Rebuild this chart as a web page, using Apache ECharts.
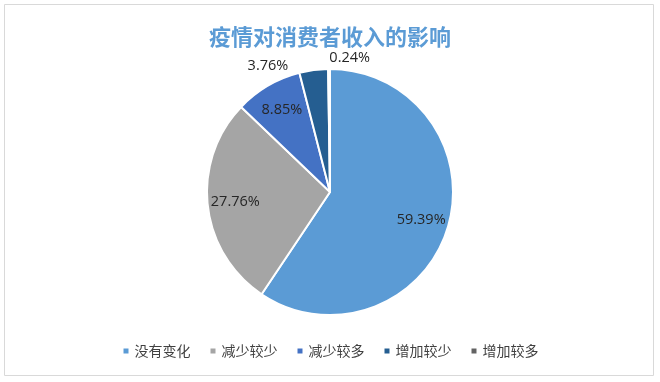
<!DOCTYPE html>
<html><head><meta charset="utf-8">
<script src="https://cdn.jsdelivr.net/npm/echarts@6/dist/echarts.min.js"></script>
<style>html,body{margin:0;padding:0;background:#fff}#c{width:660px;height:382px}</style>
</head><body><div id="c"></div>
<script>
const titleText = '疫情对消费者收入的影响';
const categories = ['没有变化', '减少较少', '减少较多', '增加较少', '增加较多'];
const values = [59.39, 27.76, 8.85, 3.76, 0.24];
const colors = ['#5B9BD5', '#A5A5A5', '#4472C4', '#255E91', '#636363'];
const insideLabel = [true, true, true, false, false];
const outsideShift = [null, null, null, [31, -12], [54, -3]];

const chart = echarts.init(document.getElementById('c'), null, {renderer: 'canvas'});
const fontCJK = '"Noto Sans CJK SC", "Noto Sans", sans-serif';
const fontNum = '"Open Sans", "Noto Sans", sans-serif';
const R = 123;
const data = categories.map((n, i) => ({name: n, value: values[i]}));

chart.setOption({
  animation: false,
  color: colors,
  title: {
    text: titleText, left: 'center', top: 21,
    textStyle: {color: '#5B9BD5', fontSize: 22, fontWeight: 'bold', fontFamily: fontCJK}
  },
  legend: {
    bottom: 19, left: 'center', itemWidth: 7, itemHeight: 7, itemGap: 18,
    icon: 'rect',
    textStyle: {color: '#404040', fontSize: 14, fontFamily: fontCJK},
    data: categories
  },
  graphic: [{
    type: 'rect', shape: {x: 4.5, y: 4.5, width: 649, height: 371},
    style: {fill: 'none', stroke: '#d9d9d9', lineWidth: 1}, silent: true, z: -1
  }],
  series: [{
    type: 'pie', center: [330, 192], radius: [0, R], startAngle: 90, clockwise: true,
    data: data,
    itemStyle: {borderColor: '#fff', borderWidth: 2},
    label: {
      show: true, position: 'outside',
      formatter: p => insideLabel[p.dataIndex] ? '' : p.value.toFixed(2) + '%',
      color: '#262626', fontSize: 14.5, fontFamily: fontNum
    },
    labelLine: {show: false, length: 8, length2: 8},
    labelLayout: p => {
      const s = outsideShift[p.dataIndex];
      return s ? {dx: s[0], dy: s[1]} : {};
    },
    emphasis: {disabled: true}
  }, {
    type: 'pie', center: [330, 192], radius: [0, R * 1.5], startAngle: 90, clockwise: true,
    data: data, silent: true,
    itemStyle: {color: 'rgba(0,0,0,0)'},
    label: {
      show: true, position: 'inside',
      formatter: p => insideLabel[p.dataIndex] ? p.value.toFixed(2) + '%' : '',
      color: '#262626', fontSize: 14.5, fontFamily: fontNum
    },
    labelLine: {show: false},
    emphasis: {disabled: true}
  }]
});
</script></body></html>
